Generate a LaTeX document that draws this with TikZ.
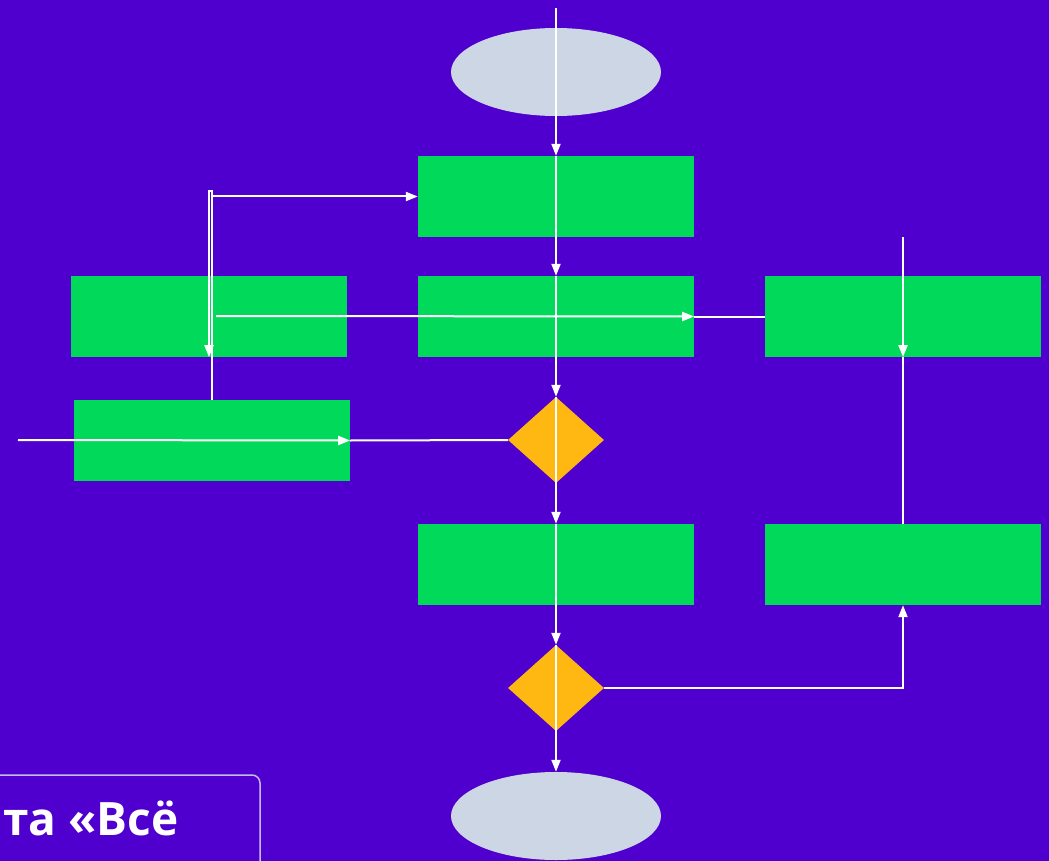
\documentclass[tikz,border=0pt]{standalone}
\usepackage{fontspec}
\setmainfont{Open Sans}
\usetikzlibrary{shapes.geometric,arrows.meta}
\definecolor{bg}{RGB}{79,0,206}
\definecolor{boxgreen}{RGB}{0,217,90}
\definecolor{gold}{RGB}{255,184,18}
\definecolor{oval}{RGB}{205,214,229}
\definecolor{frame}{RGB}{200,186,240}
\tikzset{
  block/.style={fill=boxgreen,minimum width=276pt,minimum height=81pt,inner sep=0pt},
  choice/.style={diamond,fill=gold,minimum width=96pt,minimum height=86pt,inner sep=0pt},
  term/.style={ellipse,fill=oval,minimum width=210pt,minimum height=88pt,inner sep=0pt},
  flow/.style={white,line width=2pt,-{Triangle[length=12pt,width=9pt]}},
  plain/.style={white,line width=2pt}
}
\begin{document}
\begin{tikzpicture}[x=1pt,y=-1pt]
    \useasboundingbox[fill=bg] (0,0) rectangle (1049,861);
    \node[term] (start) at (556,72) {};
    \node[block] (init) at (556,196.5) {};
    \node[block] (left) at (209,316.5) {};
    \node[block] (mid) at (556,316.5) {};
    \node[block] (right) at (903,316.5) {};
    \node[block] (input) at (212,440.5) {};
    \node[choice] (check) at (556,440) {};
    \node[block] (proc) at (556,564.5) {};
    \node[block] (fix) at (903,564.5) {};
    \node[choice] (test) at (556,688) {};
    \node[term] (stop) at (556,816) {};
    \coordinate (in) at (18,440);
    \coordinate (top) at (556,8);
    \coordinate (bend) at (212,191);
    \coordinate (back) at (216,316);
    \coordinate (rtop) at (903,237);
    % main line
    \path[flow] (top) edge (init.north)
    (init.north) edge (mid.north)
    (mid.north) edge (check.north)
    (check.north) edge (proc.north)
    (proc.north) edge (test.north)
    (test.north) edge (stop.north);
    \path[flow] (in) edge (input.east)
    (back) edge (mid.east)
    (input.north |- init.west) edge (init.west)
    (rtop) edge (right.south);
    \draw[plain] (input.east) -- (check.west);
    \draw[plain] (mid.east) -- (right.west);
    \draw[plain] (right.south) -- (fix.north);
    \draw[flow] (input.north) -- (bend) -- ++(-3,0) -- (left.south);
    \draw[flow] (test.east) -| (fix.south);
    % caption box
    \draw[frame,line width=1.5pt,rounded corners=8pt] (-20,775) rectangle (260,900);
    \node[white,font=\fontsize{46}{55}\selectfont\bfseries,anchor=base west,inner sep=0pt] (caption) at (3,835) {та «Всё};
\end{tikzpicture}
\end{document}
